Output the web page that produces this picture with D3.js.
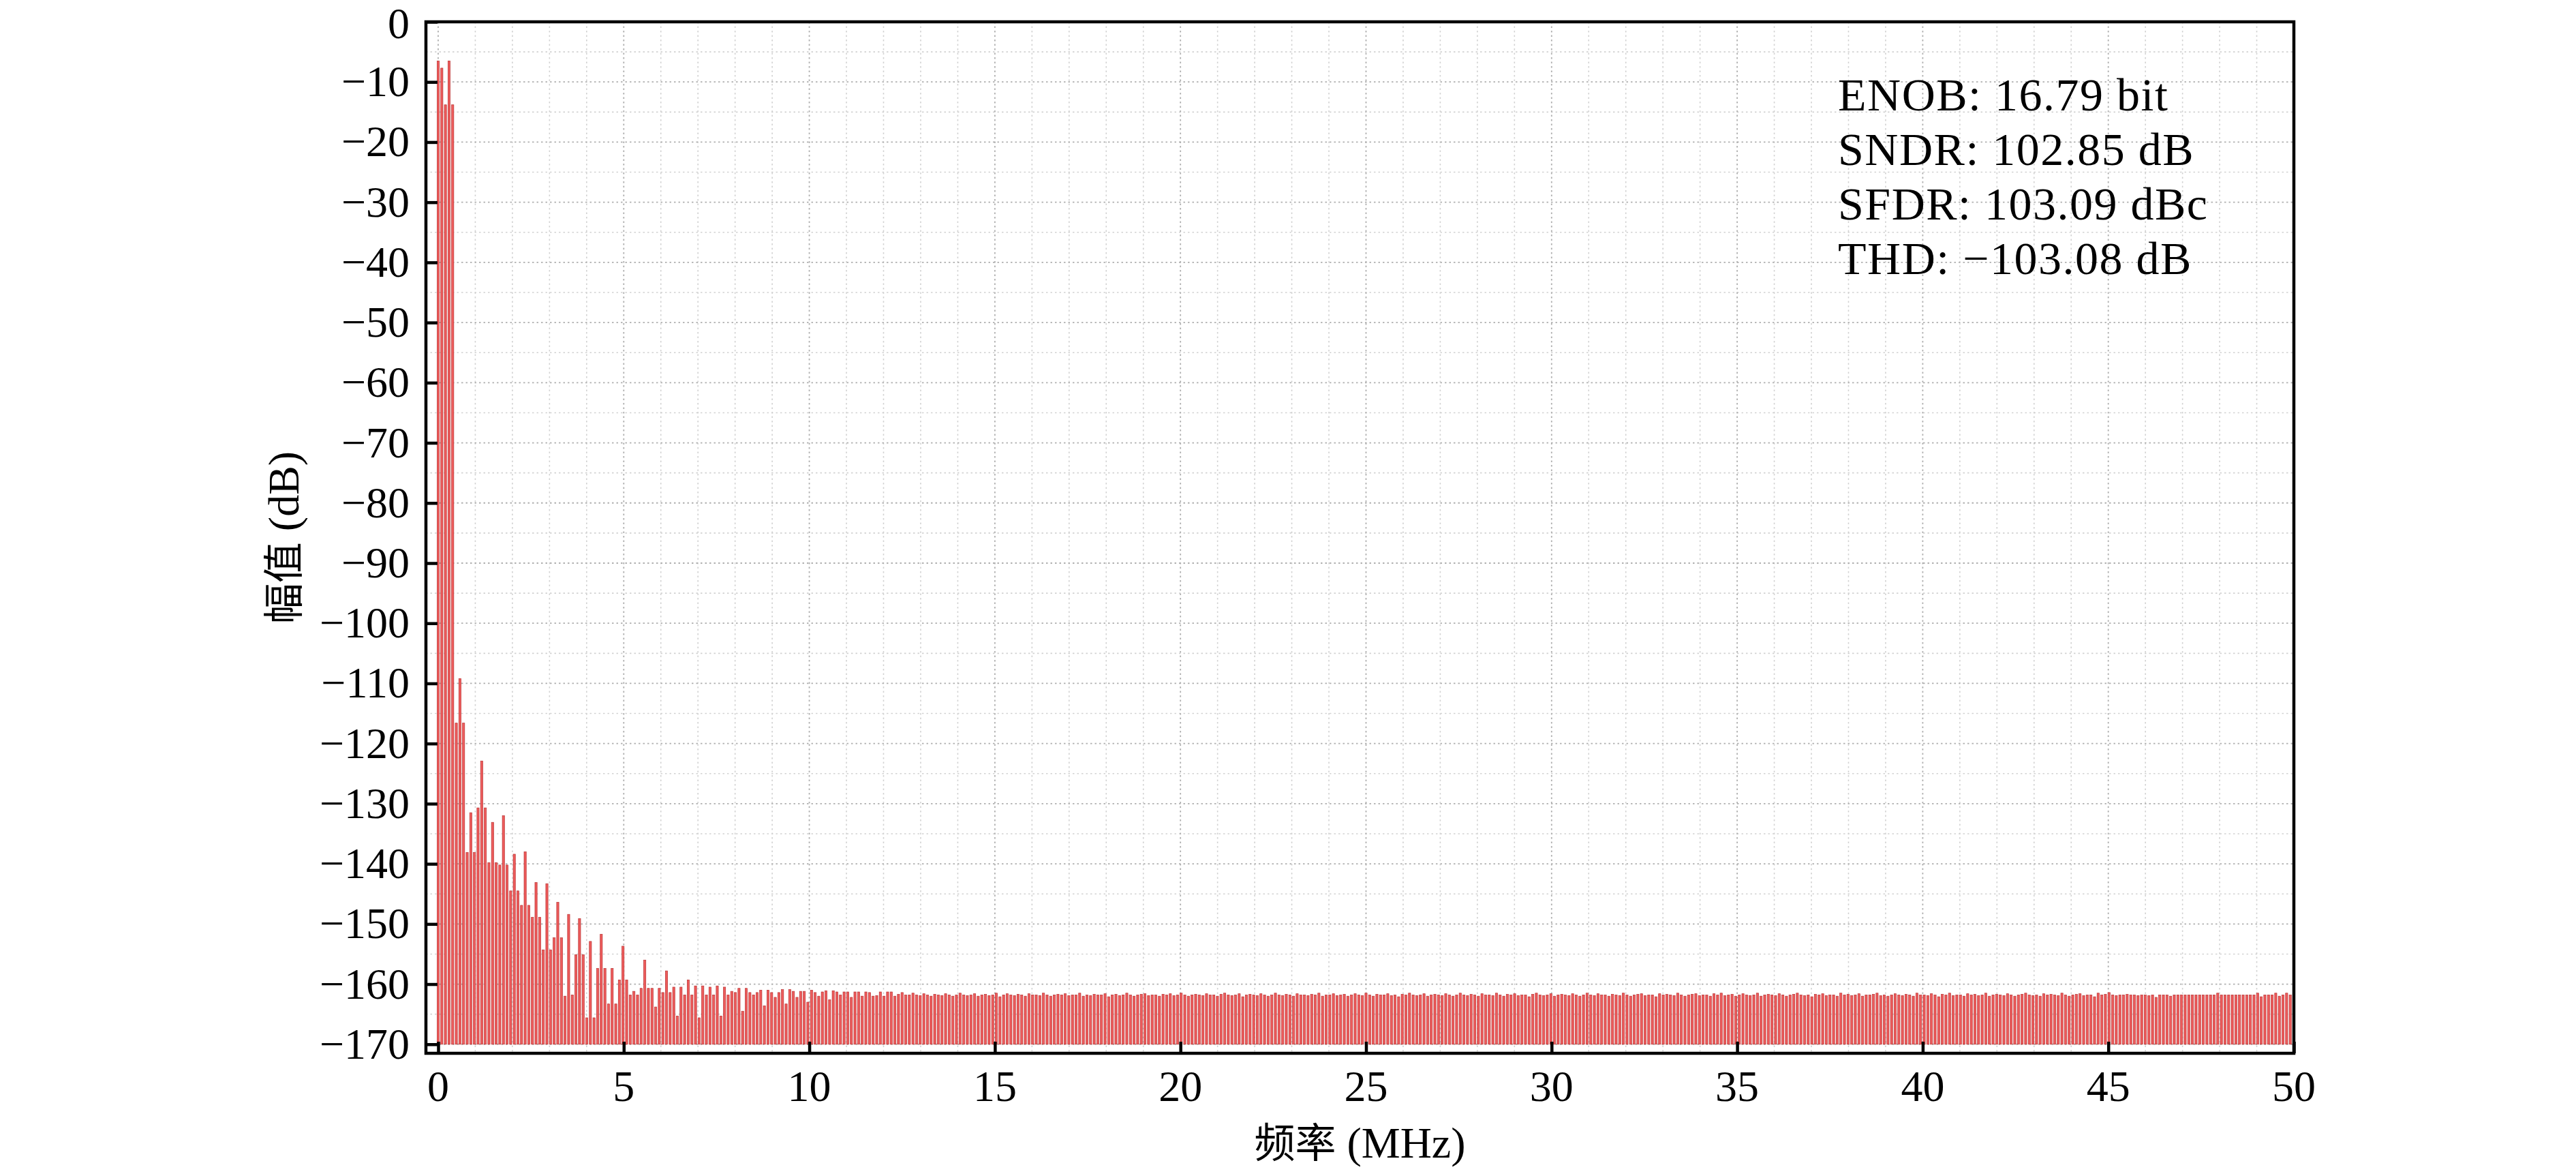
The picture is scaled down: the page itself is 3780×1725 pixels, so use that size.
<!DOCTYPE html>
<html><head><meta charset="utf-8">
<script src="https://cdn.jsdelivr.net/npm/d3@7"></script>
<style>body{margin:0;background:#fff;} svg{display:block}</style>
</head><body>
<svg id="chart" width="3780" height="1725"></svg>
<script>
// ---------- data ----------
const sampleRateMHz = 100;
const fftSize = 1024;
const magnitudeDb = [
-6.5,-7.7,-13.8,-6.5,-13.8,-116.6,-109.2,-116.6,-138.1,-131.5,
-138.1,-130.7,-122.9,-130.7,-139.8,-133.1,-139.8,-140.2,-132.0,-140.2,
-144.5,-138.4,-144.5,-146.9,-138.0,-146.9,-148.9,-143.1,-148.9,-154.3,
-143.3,-154.3,-152.3,-146.4,-152.3,-162.0,-148.4,-161.8,-155.1,-149.1,
-155.1,-165.6,-152.9,-165.6,-157.4,-151.7,-157.4,-163.3,-157.4,-163.3,
-159.3,-153.7,-159.3,-161.8,-161.2,-161.8,-160.7,-156.0,-160.7,-160.7,
-163.8,-160.7,-161.4,-157.8,-161.4,-160.5,-165.3,-160.5,-161.8,-159.3,
-161.8,-160.3,-165.6,-160.3,-161.8,-160.5,-161.8,-160.3,-165.3,-160.5,
-161.8,-161.2,-161.4,-160.7,-164.5,-160.7,-161.4,-161.8,-161.4,-161.0,
-163.6,-161.0,-161.4,-162.2,-161.4,-160.9,-163.3,-160.9,-161.2,-162.2,
-161.2,-161.2,-163.0,-161.0,-161.4,-162.0,-161.3,-161.1,-162.6,-161.1,
-161.3,-161.8,-161.3,-161.3,-162.2,-161.3,-161.3,-162.0,-161.3,-161.4,
-162.0,-161.9,-161.3,-162.0,-161.3,-161.3,-162.0,-161.7,-161.4,-161.8,
-161.8,-161.5,-161.8,-161.9,-161.6,-161.8,-162.0,-161.7,-161.8,-161.9,
-161.6,-161.8,-162.0,-161.8,-161.5,-161.8,-161.9,-161.8,-161.6,-162.0,
-161.8,-161.7,-161.9,-161.8,-161.5,-162.1,-161.8,-161.6,-161.8,-161.9,
-161.7,-161.8,-162.0,-161.6,-161.8,-161.8,-161.9,-161.5,-161.8,-162.0,
-161.8,-161.7,-161.8,-161.6,-161.9,-161.8,-161.8,-161.5,-162.0,-161.8,
-161.9,-161.7,-161.8,-161.8,-161.6,-162.1,-161.8,-161.7,-161.9,-161.8,
-161.5,-161.8,-162.0,-161.8,-161.7,-161.6,-161.9,-161.8,-161.8,-162.0,
-161.7,-161.8,-161.6,-161.9,-161.8,-161.5,-161.8,-162.0,-161.8,-161.7,
-161.8,-161.9,-161.6,-161.8,-161.8,-162.0,-161.7,-161.5,-161.8,-161.9,
-161.8,-161.6,-162.1,-161.8,-161.7,-161.8,-161.9,-161.6,-161.8,-162.0,
-161.8,-161.5,-161.8,-161.9,-161.7,-161.8,-162.0,-161.6,-161.8,-161.8,
-161.9,-161.7,-161.8,-161.5,-162.0,-161.8,-161.8,-161.6,-161.9,-161.8,
-161.7,-162.0,-161.8,-161.6,-161.8,-161.9,-161.5,-161.8,-162.0,-161.7,
-161.8,-161.8,-161.6,-161.9,-161.8,-162.1,-161.7,-161.8,-161.5,-161.8,
-161.9,-161.8,-161.6,-162.0,-161.8,-161.7,-161.8,-161.9,-161.6,-161.8,
-162.0,-161.8,-161.5,-161.8,-161.9,-161.7,-161.8,-162.0,-161.6,-161.8,
-161.8,-161.9,-161.5,-161.8,-162.0,-161.7,-161.8,-161.6,-161.9,-161.8,
-161.8,-162.1,-161.7,-161.5,-161.8,-161.9,-161.8,-161.6,-162.0,-161.8,
-161.7,-161.8,-161.9,-161.6,-161.8,-162.0,-161.8,-161.5,-161.8,-161.9,
-161.6,-161.8,-161.8,-162.0,-161.7,-161.8,-161.9,-161.5,-161.8,-162.0,
-161.8,-161.7,-161.6,-161.9,-161.8,-161.8,-162.1,-161.6,-161.8,-161.7,
-161.8,-161.9,-161.5,-161.8,-162.0,-161.8,-161.7,-161.6,-161.9,-161.8,
-161.8,-162.0,-161.6,-161.8,-161.5,-161.9,-161.8,-161.7,-162.0,-161.8,
-161.6,-161.8,-161.9,-161.8,-161.5,-162.0,-161.8,-161.7,-161.8,-161.9,
-161.6,-161.8,-162.0,-161.8,-161.7,-161.5,-161.8,-161.9,-161.8,-162.1,
-161.7,-161.8,-161.6,-161.9,-161.8,-161.8,-162.0,-161.5,-161.8,-161.7,
-161.9,-161.8,-161.6,-162.0,-161.8,-161.8,-161.7,-161.5,-161.9,-161.8,
-162.0,-161.8,-161.6,-161.8,-161.9,-161.7,-161.8,-162.0,-161.5,-161.8,
-161.8,-161.9,-161.6,-161.8,-162.1,-161.7,-161.8,-161.5,-161.9,-161.8,
-161.8,-162.0,-161.6,-161.8,-161.7,-161.9,-161.8,-161.5,-162.0,-161.8,
-161.7,-161.8,-161.9,-161.6,-161.8,-162.0,-161.8,-161.7,-161.5,-161.8,
-161.9,-161.8,-162.0,-161.6,-161.8,-161.7,-161.8,-161.9,-161.5,-161.8,
-162.0,-161.8,-161.7,-161.6,-161.9,-161.8,-161.8,-162.1,-161.5,-161.8,
-161.7,-161.4,-161.8,-161.9,-161.8,-161.8,-161.7,-161.8,-161.8,-161.9,
-161.8,-161.8,-161.9,-161.8,-162.2,-161.8,-161.8,-161.8,-162.0,-161.8,
-161.8,-161.8,-161.8,-161.8,-161.8,-161.8,-161.8,-161.8,-161.8,-161.8,
-161.8,-161.5,-161.8,-161.8,-161.8,-161.8,-161.8,-161.8,-161.8,-161.8,
-161.8,-161.8,-161.5,-162.1,-161.8,-161.8,-161.8,-161.5,-162.0,-161.8,
-161.5,-161.8
];
const xTickValues = [0,5,10,15,20,25,30,35,40,45,50];
const yTickValues = [0,-10,-20,-30,-40,-50,-60,-70,-80,-90,-100,-110,-120,-130,-140,-150,-160,-170];
const xMinorGridValues = [1,2,3,4,6,7,8,9,11,12,13,14,16,17,18,19,21,22,23,24,26,27,28,29,31,32,33,34,36,37,38,39,41,42,43,44,46,47,48,49];
const yMinorGridValues = [-5,-15,-25,-35,-45,-55,-65,-75,-85,-95,-105,-115,-125,-135,-145,-155,-165];
const metricLines = ["ENOB: 16.79 bit","SNDR: 102.85 dB","SFDR: 103.09 dBc","THD: \u2212103.08 dB"];
const xLabelCJK = "频率", xLabelUnit = " (MHz)";
const yLabelCJK = "幅值", yLabelUnit = " (dB)";
const baselineDb = -170;

// ---------- layout ----------
const L = 625, R = 3366, T = 32, B = 1545;
const serif = "'Liberation Serif','Times New Roman',serif";
const cjk = "'Noto Sans CJK SC','Noto Sans CJK JP',sans-serif";

const svg = d3.select("#chart");
svg.append("rect").attr("width",3780).attr("height",1725).attr("fill","#fff");

const x = d3.scaleLinear().domain([-0.33, 50]).range([L, R]);
const y = d3.scaleLinear().domain([-171.5, 0]).range([B, T]);

const spectrum = magnitudeDb.map((v,i) => ({f: i*sampleRateMHz/fftSize, v}));

// grid
const grid = svg.append("g");
grid.selectAll(".vmin").data(xMinorGridValues).join("line")
  .attr("x1",d=>x(d)).attr("x2",d=>x(d)).attr("y1",T).attr("y2",B)
  .attr("stroke","#d2d2d2").attr("stroke-width",1.6).attr("stroke-dasharray","2.5,4");
grid.selectAll(".hmin").data(yMinorGridValues).join("line")
  .attr("y1",d=>y(d)).attr("y2",d=>y(d)).attr("x1",L).attr("x2",R)
  .attr("stroke","#d2d2d2").attr("stroke-width",1.6).attr("stroke-dasharray","2.5,4");
grid.selectAll(".vmaj").data(xTickValues).join("line")
  .attr("x1",d=>x(d)).attr("x2",d=>x(d)).attr("y1",T).attr("y2",B)
  .attr("stroke","#b0b0b0").attr("stroke-width",1.8).attr("stroke-dasharray","2.5,4");
grid.selectAll(".hmaj").data(yTickValues).join("line")
  .attr("y1",d=>y(d)).attr("y2",d=>y(d)).attr("x1",L).attr("x2",R)
  .attr("stroke","#b0b0b0").attr("stroke-width",1.8).attr("stroke-dasharray","2.5,4");

// bars
const bw = 3.2;
svg.append("g").selectAll("rect").data(spectrum).join("rect")
  .attr("x", d => x(d.f) - bw/2)
  .attr("width", bw)
  .attr("y", d => y(d.v))
  .attr("height", d => y(baselineDb) - y(d.v))
  .attr("fill", "#ee5c5c")
  .attr("stroke", "#b83030")
  .attr("stroke-width", 0.7);

// axes via d3 (ticks inward)
const xAxis = d3.axisBottom(x).tickValues(xTickValues).tickSize(-17).tickFormat("");
const yAxis = d3.axisLeft(y).tickValues(yTickValues).tickSize(-17).tickFormat("");
const gx = svg.append("g").attr("transform",`translate(0,${B})`).call(xAxis);
const gy = svg.append("g").attr("transform",`translate(${L},0)`).call(yAxis);
[gx,gy].forEach(g => {
  g.select(".domain").remove();
  g.selectAll(".tick line").attr("stroke","#000").attr("stroke-width",4.5);
});

// frame
svg.append("rect").attr("x",L).attr("y",T).attr("width",R-L).attr("height",B-T)
  .attr("fill","none").attr("stroke","#000").attr("stroke-width",4.5);

// tick labels
svg.append("g").selectAll("text").data(xTickValues).join("text")
  .attr("x", d => x(d)).attr("y", 1615)
  .attr("text-anchor","middle").attr("font-family",serif).attr("font-size",64)
  .text(d => d);
svg.append("g").selectAll("text").data(yTickValues).join("text")
  .attr("x", 601).attr("y", d => Math.max(y(d) + 21, 56))
  .attr("text-anchor","end").attr("font-family",serif).attr("font-size",64)
  .text(d => d < 0 ? "\u2212" + Math.abs(d) : String(d));

// axis titles
const xt = svg.append("text").attr("x",(L+R)/2).attr("y",1698).attr("text-anchor","middle")
  .attr("font-size",64);
xt.append("tspan").attr("font-family",cjk).attr("font-size",60).text(xLabelCJK);
xt.append("tspan").attr("font-family",serif).text(xLabelUnit);

const yt = svg.append("text").attr("transform",`translate(438,${(T+B)/2}) rotate(-90)`)
  .attr("text-anchor","middle").attr("font-size",64);
yt.append("tspan").attr("font-family",cjk).attr("font-size",60).text(yLabelCJK);
yt.append("tspan").attr("font-family",serif).text(yLabelUnit);

// metrics annotation
svg.append("g").selectAll("text").data(metricLines).join("text")
  .attr("x", 2697).attr("y", (d,i) => 162 + i*80)
  .attr("font-family",serif).attr("font-size",68).attr("letter-spacing",1.5)
  .text(d => d);
</script>
</body></html>
